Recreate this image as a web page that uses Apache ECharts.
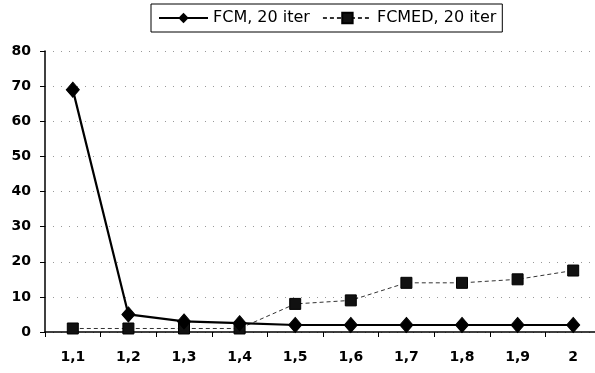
<!DOCTYPE html>
<html>
<head>
<meta charset="utf-8">
<script src="https://cdn.jsdelivr.net/npm/echarts@6/dist/echarts.min.js"></script>
<style>
html,body{margin:0;padding:0;background:#fff;overflow:hidden;}
#chart{width:601px;height:373px;}
</style>
</head>
<body>
<div id="chart"></div>
<script>
// Fuzzifier values on the x axis
const categories = ['1,1', '1,2', '1,3', '1,4', '1,5', '1,6', '1,7', '1,8', '1,9', '2'];
// Results after 20 iterations
const fcm = [69, 5, 3, 2.5, 2, 2, 2, 2, 2, 2];
const fcmed = [1, 1, 1, 1, 8, 9, 14, 14, 15, 17.5];
const yTicks = [0, 10, 20, 30, 40, 50, 60, 70, 80];

const font = 'DejaVu Sans, sans-serif';
const chart = echarts.init(document.getElementById('chart'), null, { renderer: 'canvas' });

chart.setOption({
  backgroundColor: '#fff',
  animation: false,
  legend: {
    top: 4,
    left: 151,
    itemWidth: 49,
    itemHeight: 13,
    itemGap: 12,
    padding: [6, 6, 6, 7],
    borderColor: '#000',
    borderWidth: 1,
    textStyle: { fontFamily: font, fontSize: 16, color: '#000' },
    data: ['FCM, 20 iter', 'FCMED, 20 iter']
  },
  grid: { left: 45, top: 51, right: 0, height: 281, containLabel: false },
  xAxis: {
    type: 'category',
    data: categories,
    boundaryGap: true,
    axisLine: { lineStyle: { color: '#000', width: 1.5 } },
    axisTick: { show: true, length: 5, lineStyle: { color: '#000' } },
    axisLabel: { fontFamily: font, fontSize: 14, fontWeight: 'bold', color: '#000', margin: 18 },
    splitLine: { show: false }
  },
  yAxis: {
    type: 'value',
    min: yTicks[0],
    max: yTicks[yTicks.length - 1],
    interval: 10,
    axisLine: { show: true, lineStyle: { color: '#000', width: 1.5 } },
    axisTick: { show: true, length: 5, lineStyle: { color: '#000' } },
    axisLabel: { fontFamily: font, fontSize: 14, fontWeight: 'bold', color: '#000', margin: 14 },
    splitLine: { show: true, lineStyle: { color: '#999', width: 1, type: [1, 7] } }
  },
  series: [
    {
      name: 'FCM, 20 iter',
      type: 'line',
      data: fcm,
      symbol: 'diamond',
      symbolSize: [13, 15],
      lineStyle: { color: '#000', width: 2.2 },
      itemStyle: { color: '#000', borderColor: '#000' },
      z: 3
    },
    {
      name: 'FCMED, 20 iter',
      type: 'line',
      data: fcmed,
      symbol: 'rect',
      symbolSize: 11,
      lineStyle: { color: '#333', width: 1, type: [4, 3] },
      itemStyle: { color: '#111', borderColor: '#000', borderWidth: 1 },
      z: 2
    }
  ]
});
</script>
</body>
</html>
